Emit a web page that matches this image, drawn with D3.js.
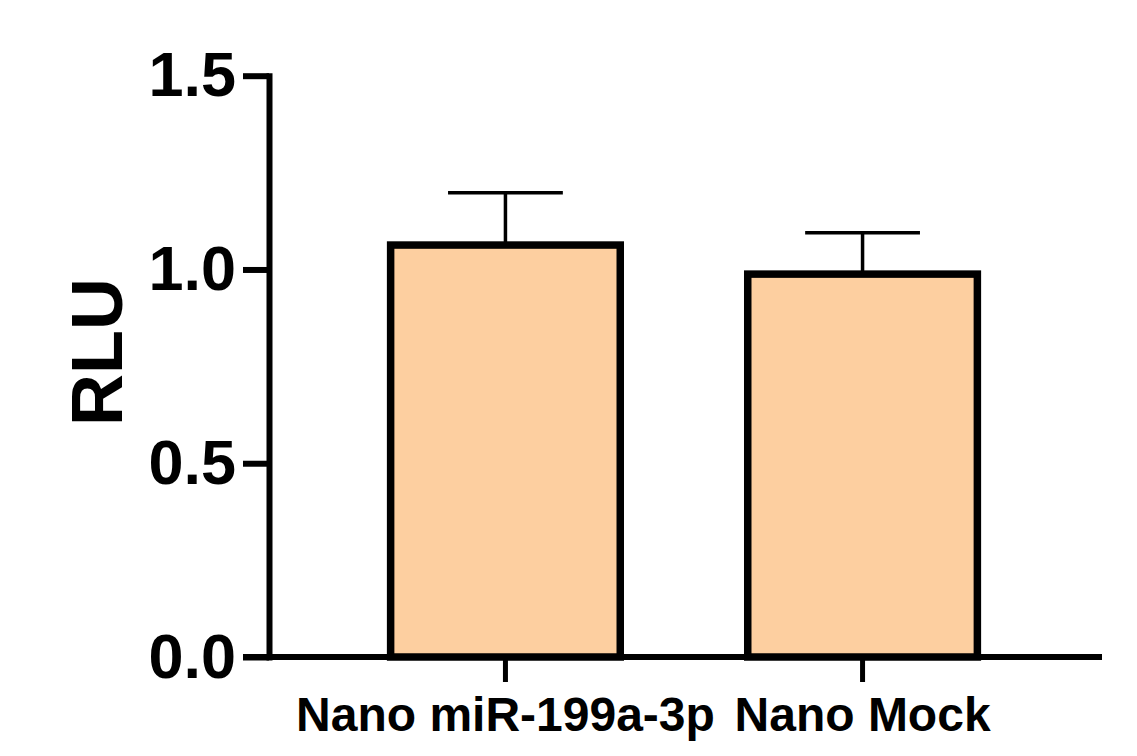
<!DOCTYPE html>
<html>
<head>
<meta charset="utf-8">
<script src="https://cdn.jsdelivr.net/npm/d3@7"></script>
<style>
  body { margin: 0; background: #fff; }
  svg { display: block; font-family: "Liberation Sans", Arial, sans-serif; }
</style>
</head>
<body>
<svg></svg>
<script>
const width = 1137;
const height = 756;
const axisLeftX = 269;
const axisRightX = 1102;
const plotTop = 75.7;
const plotBottom = 657;
const tickLen = 26;

const categories = ["Nano miR-199a-3p", "Nano Mock"];
const means = [1.063, 0.988];
const errors = [0.135, 0.107];
const yTicks = [0, 0.5, 1.0, 1.5];

const data = categories.map((c, i) => ({ label: c, mean: means[i], err: errors[i] }));

let svg = d3.select("svg").attr("width", width).attr("height", height);

let scaleY = d3.scaleLinear()
    .domain([0, 1.5])
    .range([plotBottom, plotTop]);

let scaleX = d3.scaleBand()
    .domain(categories)
    .range([266, axisRightX])
    .paddingInner(0.357)
    .paddingOuter(0.349);

// error bars
let errG = svg.append("g")
    .attr("stroke", "#000")
    .attr("stroke-width", 3.5);

errG.selectAll(".err-v")
    .data(data)
    .enter()
    .append("line")
    .attr("x1", d => scaleX(d.label) + scaleX.bandwidth() / 2)
    .attr("x2", d => scaleX(d.label) + scaleX.bandwidth() / 2)
    .attr("y1", d => scaleY(d.mean))
    .attr("y2", d => scaleY(d.mean + d.err));

errG.selectAll(".err-cap")
    .data(data)
    .enter()
    .append("line")
    .attr("x1", d => scaleX(d.label) + scaleX.bandwidth() / 4)
    .attr("x2", d => scaleX(d.label) + scaleX.bandwidth() * 3 / 4)
    .attr("y1", d => scaleY(d.mean + d.err))
    .attr("y2", d => scaleY(d.mean + d.err));

// bars
svg.selectAll(".bar")
    .data(data)
    .enter()
    .append("rect")
    .attr("class", "bar")
    .attr("x", d => scaleX(d.label))
    .attr("y", d => scaleY(d.mean))
    .attr("width", scaleX.bandwidth())
    .attr("height", d => scaleY(0) - scaleY(d.mean))
    .attr("fill", "#fdcfa0")
    .attr("stroke", "#000")
    .attr("stroke-width", 7.5);

// y axis
let gy = svg.append("g")
    .attr("transform", `translate(${axisLeftX},0)`)
    .call(d3.axisLeft(scaleY)
        .tickValues(yTicks)
        .tickFormat(d3.format(".1f"))
        .tickSize(tickLen)
        .tickSizeOuter(0)
        .tickPadding(7));
gy.select(".domain").attr("stroke-width", 6).attr("stroke-linecap", "square");
gy.selectAll(".tick line").attr("stroke-width", 6);
gy.selectAll(".tick text")
    .attr("font-size", 63)
    .attr("font-weight", "bold")
    .attr("font-family", "Liberation Sans, Arial, sans-serif")
    .attr("fill", "#000");

// x axis
let gx = svg.append("g")
    .attr("transform", `translate(0,${plotBottom})`)
    .call(d3.axisBottom(scaleX)
        .tickSize(25)
        .tickSizeOuter(0)
        .tickPadding(15));
gx.select(".domain").remove();
gx.append("line")
    .attr("x1", axisLeftX - tickLen)
    .attr("x2", axisRightX)
    .attr("stroke", "#000")
    .attr("stroke-width", 6);
gx.selectAll(".tick line").attr("stroke-width", 5);
gx.selectAll(".tick text")
    .attr("font-size", 48)
    .attr("font-weight", "bold")
    .attr("font-family", "Liberation Sans, Arial, sans-serif")
    .attr("fill", "#000");

// y label
svg.append("text")
    .attr("transform", "translate(122,352) rotate(-90)")
    .attr("text-anchor", "middle")
    .attr("font-size", 72)
    .attr("font-weight", "bold")
    .text("RLU");
</script>
</body>
</html>
